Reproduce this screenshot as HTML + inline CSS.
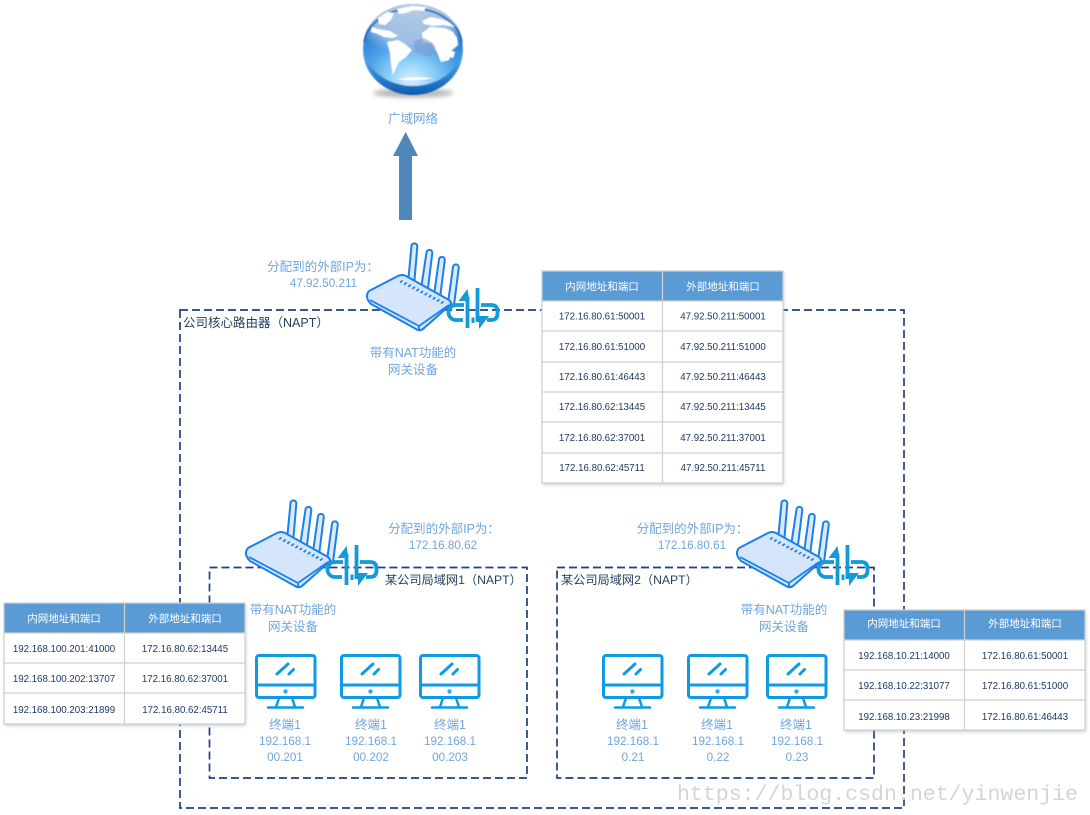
<!DOCTYPE html>
<html><head><meta charset="utf-8"><style>
html,body{margin:0;padding:0;background:#fff;width:1090px;height:815px;overflow:hidden}
svg{display:block}
text{font-family:"Liberation Sans","Noto Sans CJK SC",sans-serif}
.l{font-size:12.5px;fill:#6fa6dc;text-anchor:middle}
.n{font-size:11.700px;fill:#6fa6dc;text-anchor:middle}
.d{font-size:12.5px;fill:#24405f}
.e{font-size:12.200px;fill:#24405f}
.h{font-size:10.5px;fill:#fff;text-anchor:middle}
.c{font-size:9.7px;fill:#1f3864;text-anchor:middle}
.box{fill:none;stroke:#1f3f80;stroke-width:1.700;stroke-dasharray:8 4}
.grid{stroke:#cfcfcf;stroke-width:1.2;fill:none}
</style></head><body>
<svg width="1090" height="815" viewBox="0 0 1090 815" xmlns="http://www.w3.org/2000/svg">
<defs>
<radialGradient id="gb" cx="48%" cy="92%" r="75%"><stop offset="0" stop-color="#d4f0ff"/><stop offset=".3" stop-color="#8fd0f8"/><stop offset=".62" stop-color="#4a9ee8"/><stop offset="1" stop-color="#2478cc"/></radialGradient>
<radialGradient id="gt" cx="50%" cy="0%" r="66%"><stop offset="0" stop-color="#bccde4"/><stop offset=".72" stop-color="#a6c3e6" stop-opacity=".9"/><stop offset="1" stop-color="#7db4ea" stop-opacity="0"/></radialGradient>
<linearGradient id="ge" x1="0" y1="0" x2="0" y2="1"><stop offset="0" stop-color="#1d6fc8"/><stop offset=".6" stop-color="#4fa6ea"/><stop offset="1" stop-color="#0d5bb0"/></linearGradient>
<filter id="s" x="-5%" y="-5%" width="110%" height="110%"><feDropShadow dx="1" dy="2" stdDeviation="1.5" flood-color="#9fb2c8" flood-opacity=".6"/></filter>
<filter id="b" x="-20%" y="-80%" width="140%" height="260%"><feGaussianBlur stdDeviation="2.500"/></filter>
<filter id="sf" x="-5%" y="-5%" width="110%" height="110%"><feGaussianBlur stdDeviation=".45"/></filter>

<g id="router">
  <g fill="#dce9fc" stroke="#1a80ea" stroke-width="2" stroke-linejoin="round">
    <path d="M408 283L411.500 246a2.900 2.900 0 0 1 5.800.5L414 286z"/>
    <path d="M421 289L426.500 252.500a2.900 2.900 0 0 1 5.800.5L427.500 292z"/>
    <path d="M434 295L439 259.500a2.900 2.900 0 0 1 5.800.5L440 298z"/>
    <path d="M448 303L453 267a2.900 2.900 0 0 1 5.800.5L454 305z"/>
    <path d="M369 291L398 276q4-2 8 0L449 300q4 3.500 0 6L423 329q-3.500 2.500-7 0L371 304q-7-7-2-13z" fill="#d5e5fb"/>
  </g>
  <path d="M370 300L419 326L449 305M419 326V331" fill="none" stroke="#1a80ea" stroke-width="1.800"/>
  <g stroke="#1a80ea" stroke-width="1.700" stroke-linecap="butt">
    <path d="M400 282.500l2.600-2M404.100 284.600l2.600-2M408.200 286.700l2.600-2M412.300 288.800l2.600-2M416.400 290.900l2.600-2M420.500 293l2.600-2M424.600 295.100l2.600-2M428.700 297.200l2.600-2M432.800 299.300l2.600-2M436.900 301.400l2.600-2M441 303.500l2.600-2"/>
  </g>
  <g fill="none" stroke="#149ad8" stroke-width="3.800">
    <path d="M464 305H456a7.500 7.500 0 0 0 0 15H463"/>
    <path d="M481 305H491q6.500 0 6.500 6.500v2q0 6.500-6.500 6.500H487"/>
    <path d="M467.500 297V328M477.500 288V322"/>
  </g>
  <path d="M467.500 289L458.500 301H469.500z" fill="#149ad8"/>
  <path d="M479 329V316H489z" fill="#149ad8"/>
  <rect x="471.500" y="317.500" width="3" height="5.500" fill="#149ad8"/>
</g>

<g id="pc" fill="none" stroke="#0f9ae6" stroke-width="3" stroke-linejoin="round" stroke-linecap="round">
  <rect x="256.500" y="655.500" width="58.500" height="42" rx="2.500"/>
  <path d="M256.500 685H315M277 674L288 664M289 674L293.500 669.500"/>
  <path d="M279 698L276 707M292 698L295 707M268 707.500H303" stroke-width="2.500"/>
  <circle cx="285.500" cy="691.500" r=".6" fill="#0f9ae6"/>
</g>
</defs>

<rect width="1090" height="815" fill="#fff"/>

<!-- globe -->
<ellipse cx="413" cy="93" rx="40" ry="4.500" fill="#777" opacity=".55" filter="url(#b)"/>
<g filter="url(#sf)">
<ellipse cx="413" cy="50" rx="50" ry="45" fill="url(#ge)"/>
<ellipse cx="413" cy="45" rx="49.500" ry="41" fill="url(#gb)"/>
<ellipse cx="413" cy="45" rx="49.500" ry="41" fill="url(#gt)"/>
<path d="M364 42A49.500 39 0 0 1 462 42" fill="none" stroke="#1566b8" stroke-width="1.600"/>
<path d="M372 27L378 29L390 31L398 36L392 38L384 37L378 34L371 32z
M378 18L387 12L394 13L391 20L385 25L379 24z
M397 9L412 6L426 7L424 11L414 10L406 13L399 14z
M387 42L398 40L405 44L412 50L406 57L399 62L395 70L393 75L391 64L390 53z
M422 33L430 27L445 28L453 32L457 38L458 45L452 50L449 60L441 62L437 52L431 43L423 42z
M422 21L431 17L441 19L449 22L455 27L443 25L434 26L424 24z
M451 51L455 52L453 58L450 57z
M397 79Q414 82 433 78Q414 76 397 79z" fill="#fff"/>
<path d="M414 41L424 38L434 44L437 53L428 57L416 52L414 46z" fill="#7a9dcf" opacity=".6"/>
</g>

<!-- arrow -->
<path d="M405.700 132L418 156H412V220H399V156H393z" fill="#4f87ba"/>
<text class="l" x="413" y="123">广域网络</text>

<!-- dashed boxes -->
<rect class="box" x="180" y="310" width="724" height="498"/>
<rect class="box" x="209.500" y="567.500" width="317.500" height="210.500"/>
<rect class="box" x="557" y="567.500" width="317" height="210.500"/>

<text class="d" x="183" y="327">公司核心路由器（NAPT）</text>
<text class="e" x="385" y="584">某公司局域网1（NAPT）</text>
<text class="e" x="561" y="584">某公司局域网2（NAPT）</text>

<!-- routers -->
<use href="#router"/>
<use href="#router" x="-121" y="257"/>
<use href="#router" x="370" y="257"/>

<!-- labels -->
<text class="l" x="323" y="271">分配到的外部IP为：</text>
<text class="n" x="323.500" y="287">47.92.50.211</text>
<text class="l" x="413" y="357">带有NAT功能的</text>
<text class="l" x="413" y="374">网关设备</text>

<text class="l" x="444" y="533">分配到的外部IP为：</text>
<text class="n" x="443" y="549">172.16.80.62</text>
<text class="l" x="293" y="614">带有NAT功能的</text>
<text class="l" x="293" y="631">网关设备</text>

<text class="l" x="692.500" y="533">分配到的外部IP为：</text>
<text class="n" x="692" y="549">172.16.80.61</text>
<text class="l" x="784" y="614">带有NAT功能的</text>
<text class="l" x="784" y="631">网关设备</text>

<!-- terminals -->
<use href="#pc"/><use href="#pc" x="85"/><use href="#pc" x="164"/>
<use href="#pc" x="347"/><use href="#pc" x="432"/><use href="#pc" x="511"/>

<text class="l" x="285" y="729">终端1</text><text class="n" x="285" y="745">192.168.1</text><text class="n" x="285" y="761">00.201</text>
<text class="l" x="371" y="729">终端1</text><text class="n" x="371" y="745">192.168.1</text><text class="n" x="371" y="761">00.202</text>
<text class="l" x="450" y="729">终端1</text><text class="n" x="450" y="745">192.168.1</text><text class="n" x="450" y="761">00.203</text>
<text class="l" x="632" y="729">终端1</text><text class="n" x="633" y="745">192.168.1</text><text class="n" x="633" y="761">0.21</text>
<text class="l" x="717" y="729">终端1</text><text class="n" x="718" y="745">192.168.1</text><text class="n" x="718" y="761">0.22</text>
<text class="l" x="796" y="729">终端1</text><text class="n" x="797" y="745">192.168.1</text><text class="n" x="797" y="761">0.23</text>

<!-- main table -->
<rect x="542" y="271" width="241" height="212" fill="#fff" filter="url(#s)"/>
<rect x="542" y="271" width="241" height="30" fill="#5b9bd5"/>
<path class="grid" d="M542 271H783V483H542zM662.500 271V483M542 301H783M542 331H783M542 362H783M542 392H783M542 422H783M542 453H783"/>
<text class="h" x="602" y="290">内网地址和端口</text><text class="h" x="723" y="290">外部地址和端口</text>
<text class="c" x="602" y="319.500">172.16.80.61:50001</text><text class="c" x="723" y="319.500">47.92.50.211:50001</text>
<text class="c" x="602" y="350">172.16.80.61:51000</text><text class="c" x="723" y="350">47.92.50.211:51000</text>
<text class="c" x="602" y="380">172.16.80.61:46443</text><text class="c" x="723" y="380">47.92.50.211:46443</text>
<text class="c" x="602" y="410">172.16.80.62:13445</text><text class="c" x="723" y="410">47.92.50.211:13445</text>
<text class="c" x="602" y="441">172.16.80.62:37001</text><text class="c" x="723" y="441">47.92.50.211:37001</text>
<text class="c" x="602" y="471">172.16.80.62:45711</text><text class="c" x="723" y="471">47.92.50.211:45711</text>

<!-- left table -->
<rect x="4" y="603" width="241" height="121" fill="#fff" filter="url(#s)"/>
<rect x="4" y="603" width="241" height="30" fill="#5b9bd5"/>
<path class="grid" d="M4 603H245V724H4zM124.500 603V724M4 633H245M4 663H245M4 693H245"/>
<text class="h" x="64" y="622">内网地址和端口</text><text class="h" x="185" y="622">外部地址和端口</text>
<text class="c" x="64" y="652">192.168.100.201:41000</text><text class="c" x="185" y="652">172.16.80.62:13445</text>
<text class="c" x="64" y="682">192.168.100.202:13707</text><text class="c" x="185" y="682">172.16.80.62:37001</text>
<text class="c" x="64" y="713">192.168.100.203:21899</text><text class="c" x="185" y="713">172.16.80.62:45711</text>

<!-- right table -->
<rect x="844" y="610" width="241" height="120" fill="#fff" filter="url(#s)"/>
<rect x="844" y="610" width="241" height="30" fill="#5b9bd5"/>
<path class="grid" d="M844 610H1085V730H844zM964.500 610V730M844 640H1085M844 670H1085M844 700H1085"/>
<text class="h" x="904" y="627">内网地址和端口</text><text class="h" x="1025" y="627">外部地址和端口</text>
<text class="c" x="904" y="659">192.168.10.21:14000</text><text class="c" x="1025" y="659">172.16.80.61:50001</text>
<text class="c" x="904" y="689">192.168.10.22:31077</text><text class="c" x="1025" y="689">172.16.80.61:51000</text>
<text class="c" x="904" y="720">192.168.10.23:21998</text><text class="c" x="1025" y="720">172.16.80.61:46443</text>

<!-- watermark -->
<text x="677" y="800" textLength="401" lengthAdjust="spacingAndGlyphs" style="font-family:'Liberation Mono',monospace;font-size:21.500px;fill:#d6d5cd">https://blog.csdn.net/yinwenjie</text>
</svg>
</body></html>
